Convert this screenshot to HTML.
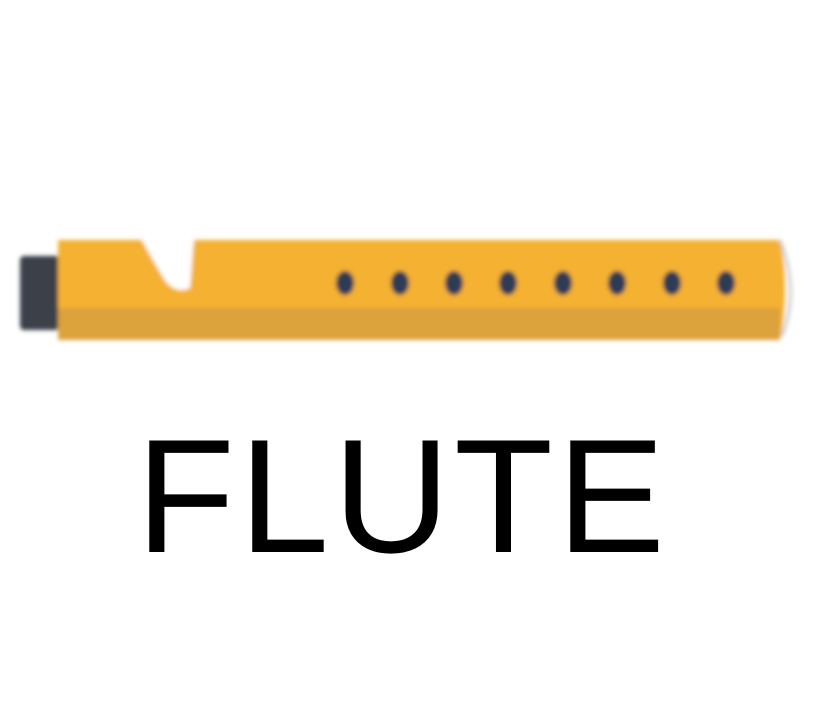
<!DOCTYPE html>
<html><head><style>
body{margin:0;width:813px;height:719px;background:#fff;overflow:hidden;position:relative}
.t{position:absolute;left:136px;top:416px;white-space:nowrap;font:162px "Liberation Sans",sans-serif;color:#000;line-height:1;letter-spacing:4px}
</style></head><body>
<svg width="813" height="719" style="position:absolute;left:0;top:0">
<defs><filter id="b"><feGaussianBlur stdDeviation="2"/></filter></defs>
<g filter="url(#b)">
<rect x="20" y="256" width="40" height="74" rx="4" fill="#3a3f4a"/>
<path d="M58 240 L780 240 Q790 290 780 340 L58 340 Z" fill="#F4B133"/>
<rect x="58" y="308" width="722" height="32" fill="#DCA23A"/>
<path d="M140 236 L194 236 L190 288 Q172 296 160 272 Q148 252 140 236 Z" fill="#fff"/>
<path d="M780 240 Q800 290 782 336" stroke="#ccc" stroke-width="3" fill="none"/>
<g fill="#2d3a55">
<ellipse cx="345" cy="283" rx="9" ry="12"/><ellipse cx="400" cy="283" rx="9" ry="12"/>
<ellipse cx="454" cy="283" rx="9" ry="12"/><ellipse cx="508" cy="283" rx="9" ry="12"/>
<ellipse cx="563" cy="283" rx="9" ry="12"/><ellipse cx="617" cy="283" rx="9" ry="12"/>
<ellipse cx="672" cy="283" rx="9" ry="12"/><ellipse cx="726" cy="283" rx="9" ry="12"/>
</g></g>
</svg>
<div class="t">FLUTE</div>
</body></html>
